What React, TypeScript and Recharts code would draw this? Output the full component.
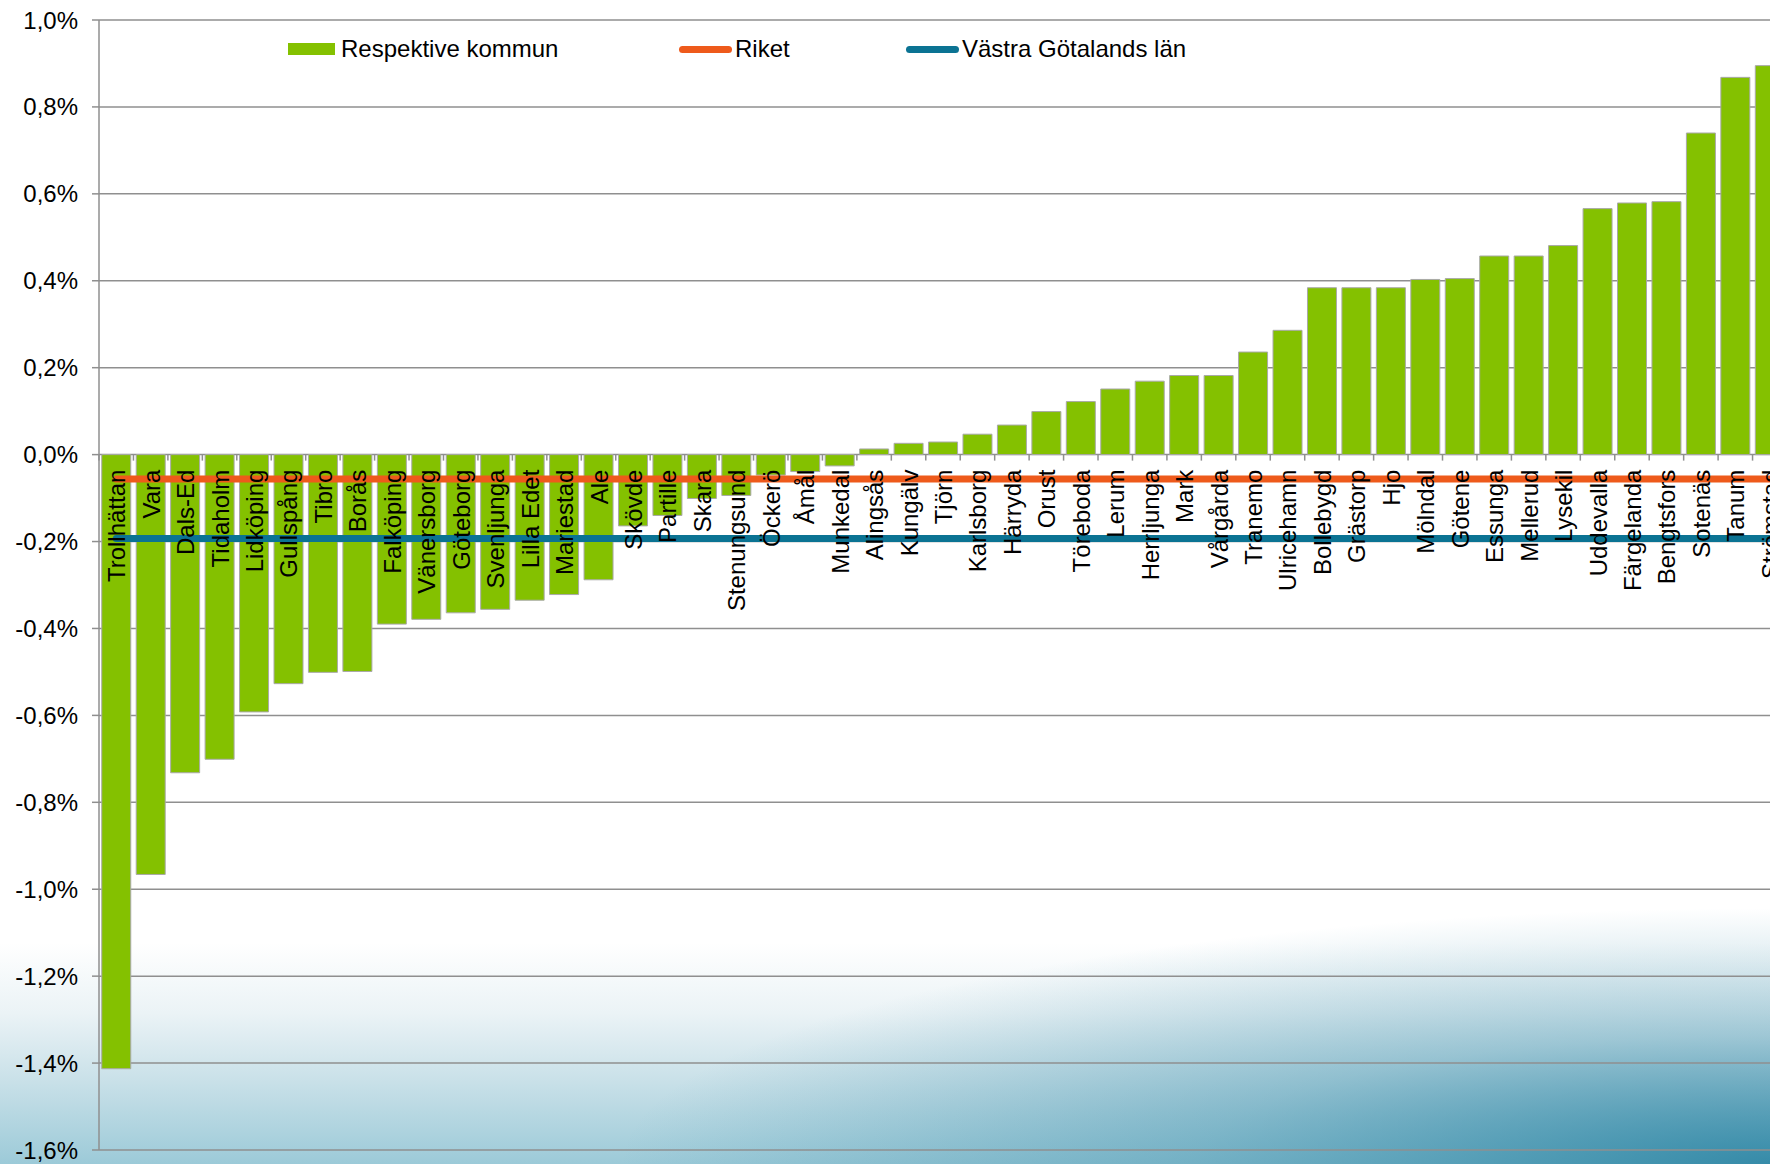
import React from 'react';
import { ComposedChart, Bar, Line, XAxis, YAxis, CartesianGrid, Legend, LabelList } from 'recharts';

// kommuner, sorted by change
const kommuner = [
  'Trollhättan', 'Vara', 'Dals-Ed', 'Tidaholm', 'Lidköping', 'Gullspång', 'Tibro', 'Borås',
  'Falköping', 'Vänersborg', 'Göteborg', 'Svenljunga', 'Lilla Edet', 'Mariestad', 'Ale',
  'Skövde', 'Partille', 'Skara', 'Stenungsund', 'Öckerö', 'Åmål', 'Munkedal', 'Alingsås',
  'Kungälv', 'Tjörn', 'Karlsborg', 'Härryda', 'Orust', 'Töreboda', 'Lerum', 'Herrljunga',
  'Mark', 'Vårgårda', 'Tranemo', 'Ulricehamn', 'Bollebygd', 'Grästorp', 'Hjo', 'Mölndal',
  'Götene', 'Essunga', 'Mellerud', 'Lysekil', 'Uddevalla', 'Färgelanda', 'Bengtsfors',
  'Sotenäs', 'Tanum', 'Strömstad',
];

// percent change per kommun
const forandring = [
  -1.413, -0.966, -0.732, -0.701, -0.592, -0.527, -0.501, -0.499,
  -0.39, -0.379, -0.364, -0.356, -0.335, -0.322, -0.288,
  -0.164, -0.14, -0.101, -0.094, -0.047, -0.039, -0.026, 0.013,
  0.026, 0.029, 0.047, 0.068, 0.099, 0.122, 0.151, 0.169,
  0.182, 0.182, 0.236, 0.286, 0.384, 0.384, 0.384, 0.403,
  0.405, 0.457, 0.457, 0.481, 0.566, 0.579, 0.582,
  0.74, 0.868, 0.895,
];

const riket = -0.056;
const vastraGotaland = -0.193;

const yTicks = [-1.6, -1.4, -1.2, -1.0, -0.8, -0.6, -0.4, -0.2, 0, 0.2, 0.4, 0.6, 0.8, 1.0];

const GREEN = '#84c100';
const ORANGE = '#ee5a1b';
const BLUE = '#0b7393';
const GRID = '#8f8f8f';
const FONT = '"Liberation Sans", Arial, sans-serif';

const CHART_W = 1790;
const CHART_H = 1164;
const MARGIN = { top: 20, right: 3, bottom: 14, left: 0 };
const Y_AXIS_W = 99;
const BAND = (CHART_W - MARGIN.left - MARGIN.right - Y_AXIS_W) / kommuner.length;

const data = kommuner.map((name, i) => ({
  name,
  kommun: forandring[i],
  riket,
  vg: vastraGotaland,
  axel: 0,
}));

const legendItems = [
  { label: 'Respektive kommun', color: GREEN, kind: 'rect', width: 391 },
  { label: 'Riket', color: ORANGE, kind: 'line', width: 227 },
  { label: 'Västra Götalands län', color: BLUE, kind: 'line', width: 320 },
];

const fmtPct = (v: number) => `${v.toFixed(1).replace('.', ',')}%`;

// category name + tick mark, drawn on the zero line
const KommunLabel = (props: any) => {
  const vb = props.viewBox || {};
  const x = props.x ?? vb.x;
  const y = props.y ?? vb.y;
  const name = kommuner[props.index];
  if (x == null || y == null) return null;
  const tx = x - BAND / 2;
  const ty = y + 15;
  return (
    <g>
      <line x1={tx} x2={tx} y1={y} y2={y + 6} stroke={GRID} strokeWidth={1.5} />
      <text
        x={x}
        y={ty}
        dy={9}
        transform={`rotate(-90, ${x}, ${ty})`}
        textAnchor="end"
        fontSize={24}
        fontFamily={FONT}
        fill="#000"
      >
        {name}
      </text>
    </g>
  );
};

const renderLegend = () => (
  <div style={{ display: 'flex', alignItems: 'center', height: 28, fontFamily: FONT, fontSize: 24, color: '#000' }}>
    {legendItems.map((it) => (
      <div key={it.label} style={{ display: 'flex', alignItems: 'center', width: it.width, whiteSpace: 'nowrap' }}>
        {it.kind === 'rect' ? (
          <div style={{ width: 47, height: 12, background: it.color, marginRight: 6 }} />
        ) : (
          <div style={{ width: 53, height: 7, borderRadius: 4, background: it.color, marginRight: 3 }} />
        )}
        <span style={{ lineHeight: '28px' }}>{it.label}</span>
      </div>
    ))}
  </div>
);

export default function App() {
  return (
    <div
      style={{
        position: 'fixed',
        top: 0,
        left: 0,
        width: 1770,
        height: 1164,
        overflow: 'hidden',
        background:
          'radial-gradient(ellipse 65% 22% at 100% 100%, rgba(36,128,160,0.85) 0%, rgba(36,128,160,0.35) 50%, rgba(36,128,160,0) 100%),' +
          'linear-gradient(to bottom, #ffffff 0%, #ffffff 81%, #ebf3f6 87%, #c8e0e8 93%, #9ccad8 100%)',
      }}
    >
      <ComposedChart
        width={CHART_W}
        height={CHART_H}
        data={data}
        margin={MARGIN}
        barCategoryGap="8%"
      >
        <CartesianGrid vertical={false} stroke={GRID} strokeWidth={1.5} />
        <XAxis dataKey="name" hide />
        <YAxis
          width={Y_AXIS_W}
          domain={[-1.6, 1.0]}
          ticks={yTicks}
          interval={0}
          tickFormatter={fmtPct}
          tickSize={7}
          tickMargin={14}
          axisLine={{ stroke: GRID, strokeWidth: 1.5 }}
          tickLine={{ stroke: GRID, strokeWidth: 1.5 }}
          tick={{ fill: '#000', fontSize: 24, fontFamily: FONT }}
        />
        <Legend
          layout="horizontal"
          verticalAlign="middle"
          align="center"
          wrapperStyle={{ top: 35, left: 288, width: 1000, height: 28 }}
          content={renderLegend}
        />
        <Bar
          dataKey="kommun"
          name="Respektive kommun"
          fill={GREEN}
          stroke="#a9a9a9"
          strokeWidth={1}
          isAnimationActive={false}
        />
        <Line
          dataKey="riket"
          name="Riket"
          stroke={ORANGE}
          strokeWidth={7}
          strokeLinecap="round"
          dot={false}
          activeDot={false}
          isAnimationActive={false}
        />
        <Line
          dataKey="vg"
          name="Västra Götalands län"
          stroke={BLUE}
          strokeWidth={7}
          strokeLinecap="round"
          dot={false}
          activeDot={false}
          isAnimationActive={false}
        />
        <Line
          dataKey="axel"
          stroke="none"
          dot={false}
          activeDot={false}
          legendType="none"
          isAnimationActive={false}
        >
          <LabelList dataKey="name" content={KommunLabel} />
        </Line>
      </ComposedChart>
    </div>
  );
}
